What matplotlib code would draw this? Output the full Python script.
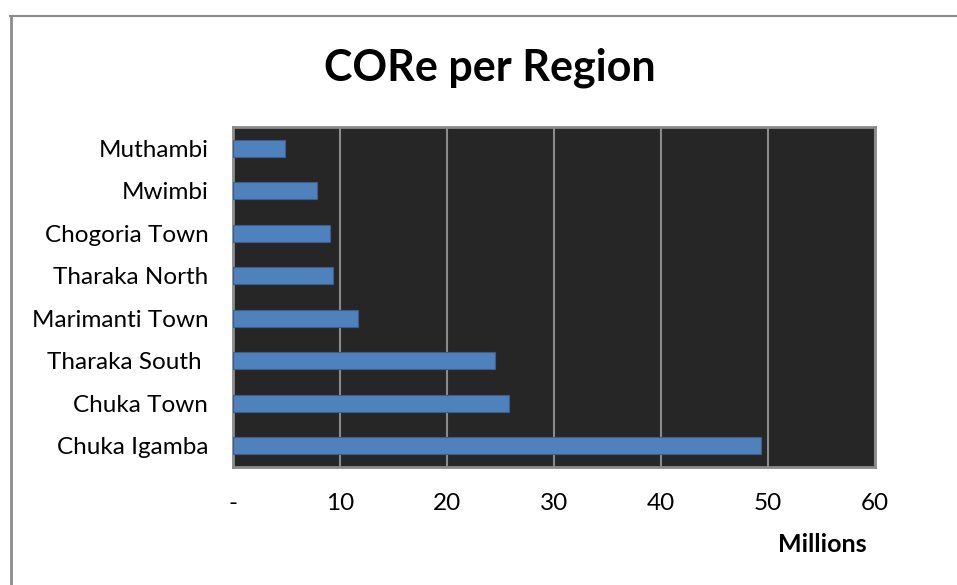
import numpy as np
import matplotlib.pyplot as plt
from matplotlib.lines import Line2D

plt.rcParams['font.family'] = ['Lato', 'DejaVu Sans']

# data (millions), bottom to top as drawn
regions = ['Chuka Igamba', 'Chuka Town', 'Tharaka South ', 'Marimanti Town',
           'Tharaka North', 'Chogoria Town', 'Mwimbi', 'Muthambi']
core = [49.3, 25.75, 24.5, 11.7, 9.3, 9.0, 7.8, 4.86]
xticks = [0, 10, 20, 30, 40, 50, 60]
xtick_labels = ['-', '10', '20', '30', '40', '50', '60']

fig = plt.figure(figsize=(9.57, 5.85), dpi=100)
ax = fig.add_axes([0.2438, 0.2017, 0.6705, 0.5812])

# chart border (only top and left visible in the crop)
fig.add_artist(Line2D([10.5 / 957, 10.5 / 957], [0, 1 - 16 / 585],
                      transform=fig.transFigure, color='#8c8c8c', lw=2))
fig.add_artist(Line2D([10 / 957, 1], [1 - 16 / 585, 1 - 16 / 585],
                      transform=fig.transFigure, color='#8c8c8c', lw=1.5))

ax.set_facecolor('#262626')
y = np.arange(len(regions))
ax.barh(y, core, height=0.4, color='#4f81bd', edgecolor='#3b5f8a',
        linewidth=0.8, zorder=3)

ax.set_xlim(0, 60)
ax.set_ylim(-0.5, len(regions) - 0.5)
ax.set_xticks(xticks)
ax.set_xticklabels(xtick_labels, fontsize=17.5)
ax.set_yticks(y)
ax.set_yticklabels(regions, fontsize=17.5)
ax.tick_params(axis='both', length=0, colors='black')
ax.tick_params(axis='y', pad=18)
ax.tick_params(axis='x', pad=19)

ax.xaxis.grid(True, color='#8a8a8a', lw=1.5, zorder=1)
ax.set_axisbelow(True)
for s in ax.spines.values():
    s.set_color('#8a8a8a')
    s.set_linewidth(2)

fig.text(490 / 957, 1 - 68 / 585, 'CORe per Region', ha='center', va='center',
         fontsize=31, fontweight='bold')
fig.text(822 / 957, 1 - 545 / 585, 'Millions', ha='center', va='center',
         fontsize=18, fontweight='bold')

fig.savefig('out.png', dpi=100, facecolor='white')
